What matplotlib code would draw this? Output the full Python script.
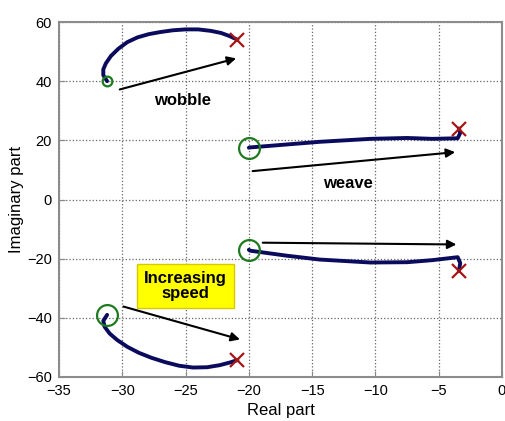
import matplotlib
matplotlib.use("Agg")
import matplotlib.pyplot as plt

plt.rcParams['font.family'] = ['Liberation Sans', 'DejaVu Sans']

# root locus branches (real, imaginary)
wobble_up_re = [-31.2, -31.5, -31.5, -31.3, -30.9, -30.3, -29.6, -28.8, -27.9, -27.0,
                -26.0, -25.0, -24.0, -23.0, -22.2, -21.5, -20.9]
wobble_up_im = [40.0, 42.0, 44.0, 46.0, 48.5, 51.0, 53.2, 54.8, 55.9, 56.6,
                57.2, 57.5, 57.5, 57.0, 56.3, 55.2, 54.0]
wobble_lo_re = [-31.2, -31.5, -31.4, -31.0, -30.4, -29.6, -28.7, -27.7, -26.6, -25.5,
                -24.4, -23.3, -22.3, -21.5, -20.9]
wobble_lo_im = [-39.0, -41.0, -43.0, -45.3, -47.5, -49.8, -51.8, -53.5, -55.0, -56.2,
                -56.8, -56.7, -56.0, -55.1, -54.3]
weave_up_re = [-20.0, -19.9, -17.0, -14.4, -10.4, -7.5, -5.5, -3.5, -3.3, -3.4]
weave_up_im = [17.5, 17.6, 18.6, 19.5, 20.5, 20.8, 20.5, 20.7, 22.5, 24.0]
weave_lo_re = [-20.0, -19.9, -17.0, -14.4, -10.4, -7.5, -5.5, -3.5, -3.3, -3.4]
weave_lo_im = [-17.0, -17.3, -19.0, -20.3, -21.3, -21.2, -20.5, -19.5, -21.5, -24.0]

# arrows: (start, end)
arrows = [((-30.2, 37.2), (-21.0, 47.7)),
          ((-19.7, 9.6), (-3.7, 16.0)),
          ((-18.9, -14.6), (-3.6, -15.2)),
          ((-29.9, -36.2), (-20.7, -47.3))]

x_ticks = [-35, -30, -25, -20, -15, -10, -5, 0]
y_ticks = [-60, -40, -20, 0, 20, 40, 60]

fig = plt.figure(figsize=(5.06, 4.21), dpi=100)
ax = fig.add_axes([59 / 506, (421 - 377) / 421, 443 / 506, 355 / 421])

line_col = '#0b0b5e'
green = '#1e7a1e'
red = '#a51515'

branches = [(wobble_up_re, wobble_up_im, 7), (wobble_lo_re, wobble_lo_im, 15),
            (weave_up_re, weave_up_im, 15), (weave_lo_re, weave_lo_im, 15)]
for re, im, ms in branches:
    ax.plot(re, im, color=line_col, lw=2.8, solid_capstyle='round',
            solid_joinstyle='round', zorder=3)
    ax.plot(re[0], im[0], 'o', mfc='none', mec=green, mew=1.6, ms=ms, zorder=4)
    ax.plot(re[-1], im[-1], 'x', color=red, mew=1.6, ms=10, zorder=4)

for (x0, y0), (x1, y1) in arrows:
    ax.annotate('', xy=(x1, y1), xytext=(x0, y0),
                arrowprops=dict(arrowstyle='-|>', color='black', lw=1.5,
                                mutation_scale=13, shrinkA=0, shrinkB=0), zorder=5)

ax.text(-25.2, 33.6, 'wobble', fontsize=12, fontweight='bold', ha='center', va='center')
ax.text(-12.15, 5.5, 'weave', fontsize=12, fontweight='bold', ha='center', va='center')
ax.text(-25.0, -29.2, 'Increasing\nspeed', fontsize=12, fontweight='bold',
        ha='center', va='center', linespacing=1.05,
        bbox=dict(boxstyle='square,pad=0.4', fc='#ffff00', ec='#d8c800', lw=1))

ax.set_xlim(-35, 0)
ax.set_ylim(-60, 60)
ax.set_xticks(x_ticks)
ax.set_yticks(y_ticks)
ax.grid(True, color='#666666', linestyle=':', lw=0.9)
ax.tick_params(direction='in', length=4, color='#888888', labelsize=10.5, pad=5)
for s in ax.spines.values():
    s.set_color('#8c8c8c')
    s.set_linewidth(1.5)
ax.set_xlabel('Real part', fontsize=12)
ax.set_ylabel('Imaginary part', fontsize=12, labelpad=2)

fig.savefig('out.png', dpi=100)
